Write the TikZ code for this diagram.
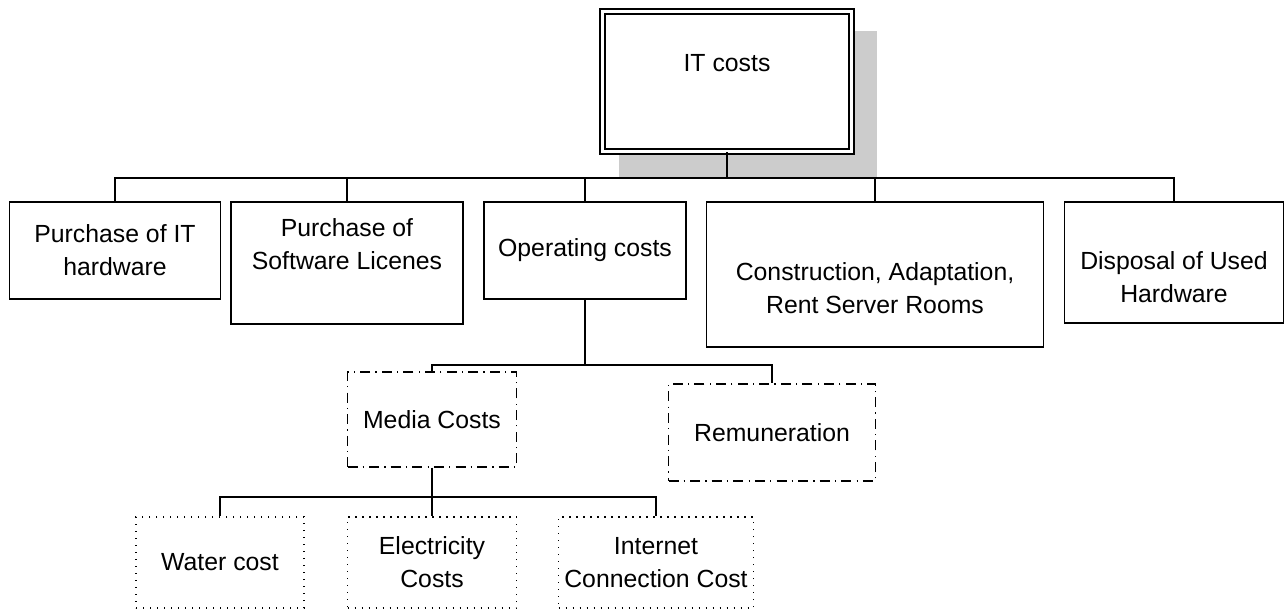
\documentclass[tikz,border=0pt]{standalone}
\usepackage{fontspec}
\setmainfont{Liberation Sans}
\usetikzlibrary{backgrounds}
\tikzset{box/.style={draw, line width=0.7pt, align=center, inner sep=0pt,
    font=\fontsize{12.4}{16.5}\selectfont},
  rootbox/.style={box, fill=white, double, double distance=1.9pt, line width=0.6pt},
  mixbox/.style={box, dash pattern=on 5pt off 2.6pt on 0.6pt off 2.6pt},
  dotbox/.style={box, line width=0.6pt, dash pattern=on 0.6pt off 2.9pt},
  % sizes are given in pixels of the picture
  sz/.style 2 args={minimum width=#1*0.5pt, minimum height=#2*0.5pt},
  txt/.style={align=center, font=\fontsize{12.4}{16.5}\selectfont},
  link/.style={line width=0.75pt},
  shadowfill/.style={fill=black!20}}

\begin{document}
\begin{tikzpicture}[x=0.5pt, y=-0.5pt]
  \useasboundingbox (0,0) rectangle (1284,615);
  \node[rootbox, sz={249}{140}, label={[txt, yshift=9.25pt]center:IT costs}] (root) at (727,81.5) {};
  \begin{scope}[on background layer]
    \fill[shadowfill] ([shift={(17.5,20.5)}]root.north west) rectangle ([shift={(24.5,26.5)}]root.south east);
  \end{scope}

  \node[box, sz={211}{97}] (hw) at (115,250.5) {Purchase of IT\\hardware};
  \node[box, sz={232}{122}, label={[txt, yshift=9.5pt]center:{Purchase of\\Software Licenes}}] (sw) at (347,263) {};
  \node[box, sz={202}{97}] (op) at (585,250.5) {Operating costs};
  \node[box, sz={337}{145}, label={[txt, yshift=-6.75pt]center:{Construction, Adaptation,\\Rent Server Rooms}}] (con) at (875,274.5) {};
  \node[box, sz={219}{121}, label={[txt, yshift=-7.5pt]center:{Disposal of Used\\Hardware}}] (dis) at (1174,262.5) {};

  \node[mixbox, sz={169}{95}] (media) at (432,419.5) {Media Costs};
  \node[mixbox, sz={207}{97}] (remun) at (772,432.5) {Remuneration};

  \node[dotbox, sz={168}{91}] (water) at (220,562.5) {Water cost};
  \node[dotbox, sz={169}{91}] (elec) at (432,562.5) {Electricity\\Costs};
  \node[dotbox, sz={195}{91}] (inet) at (656,562.5) {Internet\\Connection Cost};

  % tree lines
  \coordinate (bus) at (727,178);
  \draw[link] (root.south) -- (bus);
  \foreach \n in {hw, sw, op, con, dis}
    \draw[link] (bus) -| (\n.north);
  \coordinate (opbus) at (585,365);
  \draw[link] (op.south) -- (opbus);
  \foreach \n in {media, remun}
    \draw[link] (opbus) -| (\n.north);
  \coordinate (mbus) at (432,497);
  \draw[link] (media.south) -- (mbus);
  \foreach \n in {water, elec, inet}
    \draw[link] (mbus) -| (\n.north);
\end{tikzpicture}
\end{document}
